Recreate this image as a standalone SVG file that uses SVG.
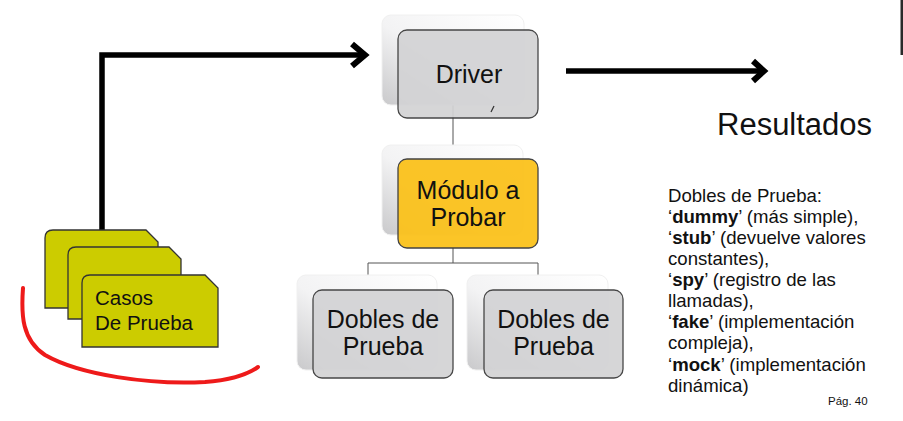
<svg xmlns="http://www.w3.org/2000/svg" width="903" height="421" viewBox="0 0 903 421">
<defs>
<linearGradient id="shadowGrad" x1="1" y1="0" x2="0" y2="1">
<stop offset="0" stop-color="#ffffff"/>
<stop offset="0.55" stop-color="#f3f3f4"/>
<stop offset="1" stop-color="#c9c9cb"/>
</linearGradient>
<style>
.shadow{fill:url(#shadowGrad);stroke:#f0f0f0;stroke-width:1}
.box{fill:#d3d3d5;stroke:#3a3a3a;stroke-width:1.3;opacity:0.93}
.gold{fill:#fbc21c;stroke:#3a3a3a;stroke-width:1.3;opacity:0.95}
.card{fill:#cccc00;stroke:#333;stroke-width:1.3}
.lbl{font-family:"Liberation Sans",Arial,sans-serif;fill:#111;text-anchor:middle}
.tree{fill:none;stroke:#555;stroke-width:1}
.arrow{fill:none;stroke:#000;stroke-width:5.5}
.head{fill:none;stroke:#000;stroke-width:6;stroke-linejoin:miter;stroke-miterlimit:10}
.txt{font-family:"Liberation Sans",Arial,sans-serif;fill:#111}
</style>
</defs>
<rect width="903" height="421" fill="#ffffff"/>
<rect x="900.5" y="0" width="2.5" height="55" fill="#2a2a2a"/>

<g id="connectors">
<path class="tree" d="M453,105 V145 M453,248 V263 M368,263 H538 M368,263 V275 M538,263 V275"/>
<path class="arrow" d="M102,231 V55 H362"/>
<path class="head" d="M352,44 L365,55 L352,66"/>
<path class="arrow" d="M566,71 H760"/>
<path class="head" d="M753,61 L764,71 L753,81"/>
</g>

<g id="driver">
<rect class="shadow" x="382" y="15" width="142" height="90" rx="9"/>
<rect class="box" x="398" y="30" width="140" height="88" rx="9"/>
<path d="M491,112 L494,106" stroke="#333" stroke-width="1.3"/>
<text class="lbl" x="469" y="83" font-size="25">Driver</text>
</g>

<g id="modulo">
<rect class="shadow" x="382" y="145" width="141" height="90" rx="9"/>
<rect class="gold" x="398" y="159" width="140" height="89" rx="9"/>
<text class="lbl" x="468" y="199" font-size="25">Módulo a</text>
<text class="lbl" x="468" y="226" font-size="25">Probar</text>
</g>

<g id="dobles1">
<rect class="shadow" x="297" y="275" width="140" height="95" rx="9"/>
<rect class="box" x="313" y="290" width="140" height="88" rx="9"/>
<text class="lbl" x="383" y="328" font-size="25">Dobles de</text>
<text class="lbl" x="383" y="355" font-size="25">Prueba</text>
</g>

<g id="dobles2">
<rect class="shadow" x="467" y="275" width="141" height="95" rx="9"/>
<rect class="box" x="484" y="290" width="139" height="88" rx="9"/>
<text class="lbl" x="553.5" y="328" font-size="25">Dobles de</text>
<text class="lbl" x="553.5" y="355" font-size="25">Prueba</text>
</g>

<g id="casos">
<path class="card" d="M53,230 H146 L158,242 V308 H45 V238 Q45,230 53,230 Z"/>
<path class="card" d="M76,247 H169 L181,259 V319 H68 V255 Q68,247 76,247 Z"/>
<path class="card" d="M90,275 H205 L218,288 V347 H82 V283 Q82,275 90,275 Z"/>
<text class="txt" x="95" y="305" font-size="20.5">Casos</text>
<text class="txt" x="95" y="330" font-size="20.5">De Prueba</text>
</g>

<path d="M23,288 C21,315 22,340 45,355 C80,375 150,385 205,382 C230,380 248,374 258,367" fill="none" stroke="#ee1a1a" stroke-width="4" stroke-linecap="round"/>

<g id="resultados">
<text class="txt" x="717" y="135" font-size="31">Resultados</text>
</g>

<g id="nota">
<text class="txt" font-size="18.6">
<tspan x="668" y="201.7">Dobles de Prueba:</tspan>
<tspan x="668" y="222.8">‘<tspan font-weight="bold">dummy</tspan>’ (más simple),</tspan>
<tspan x="668" y="243.9">‘<tspan font-weight="bold">stub</tspan>’ (devuelve valores</tspan>
<tspan x="668" y="265">constantes),</tspan>
<tspan x="668" y="286.1">‘<tspan font-weight="bold">spy</tspan>’ (registro de las</tspan>
<tspan x="668" y="307.2">llamadas),</tspan>
<tspan x="668" y="328.3">‘<tspan font-weight="bold">fake</tspan>’ (implementación</tspan>
<tspan x="668" y="349.4">compleja),</tspan>
<tspan x="668" y="370.5">‘<tspan font-weight="bold">mock</tspan>’ (implementación</tspan>
<tspan x="668" y="391.6">dinámica)</tspan>
</text>
<text class="txt" x="828" y="405" font-size="11.5">Pág. 40</text>
</g>
</svg>
